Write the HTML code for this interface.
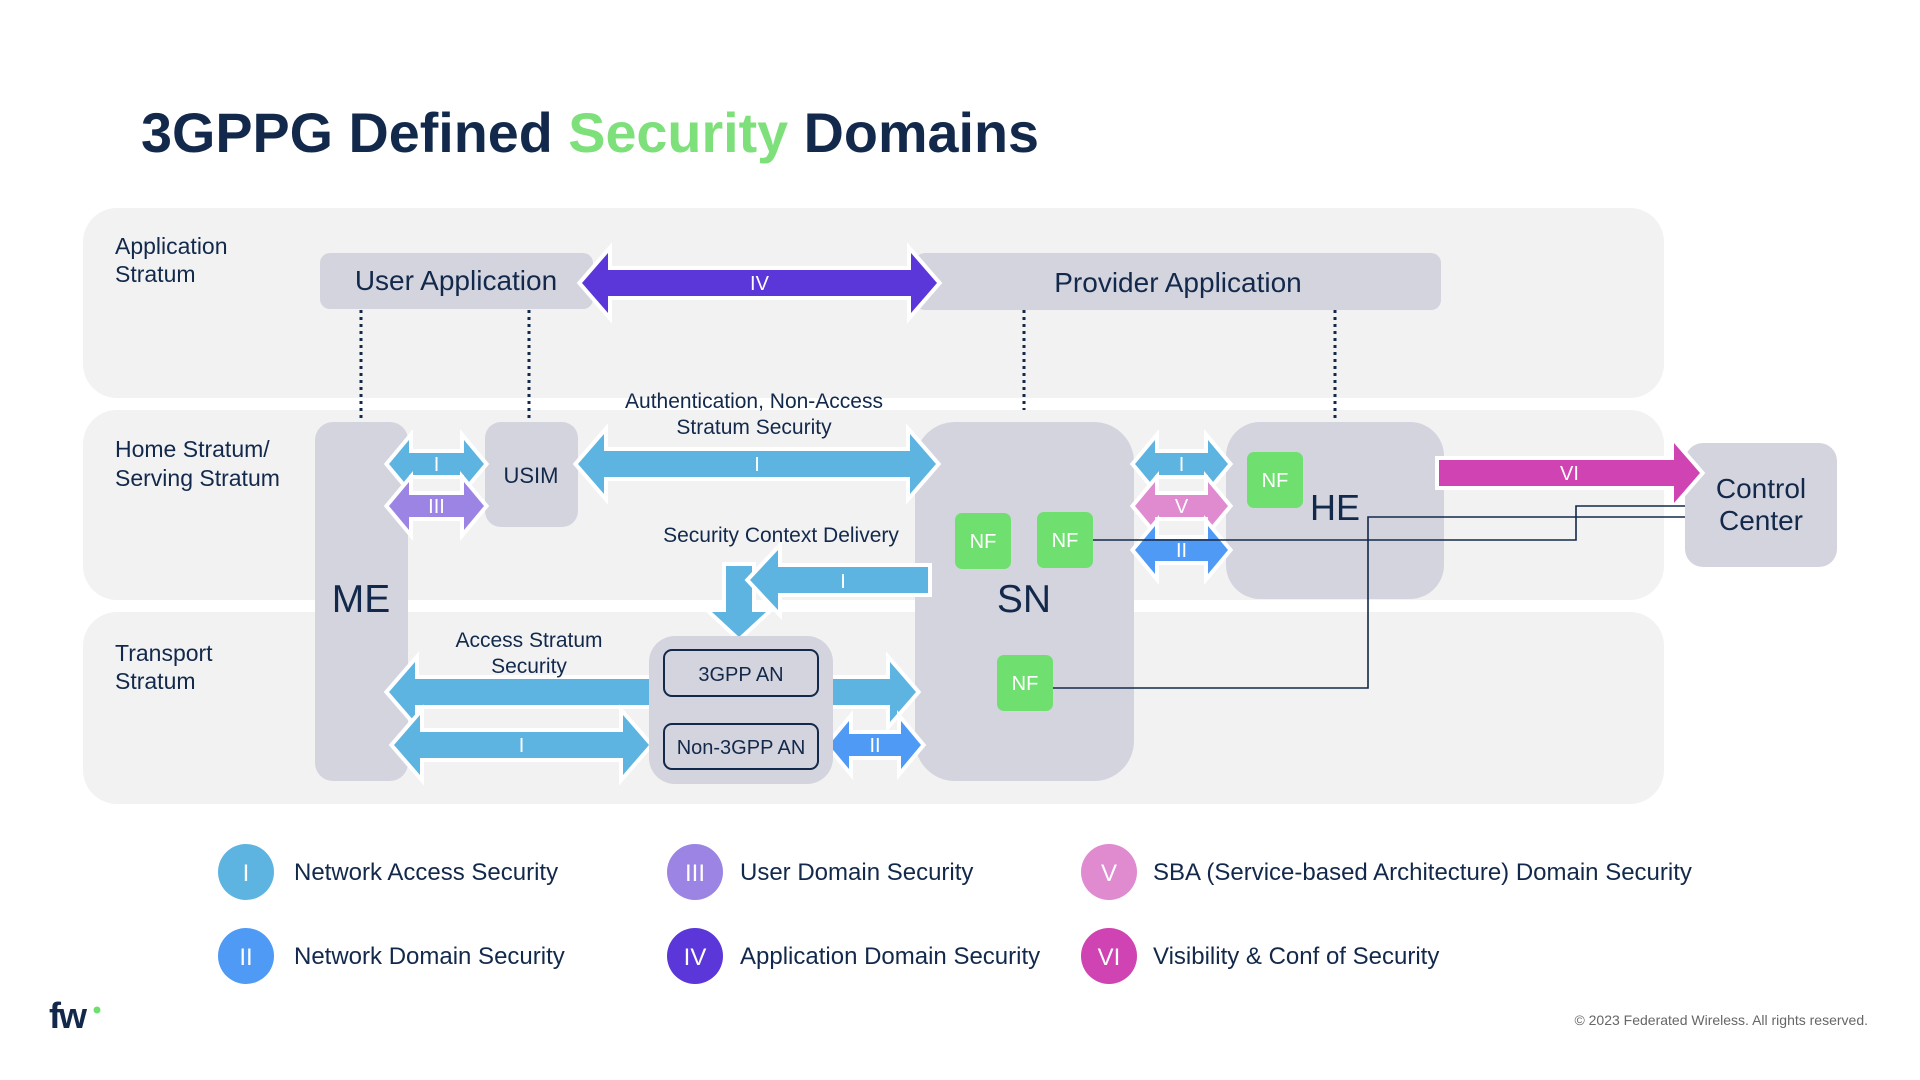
<!DOCTYPE html>
<html><head><meta charset="utf-8"><style>
html,body{margin:0;padding:0;background:#fff;}
svg{display:block;font-family:"Liberation Sans",Arial,sans-serif;}
</style></head><body>
<svg id="s" width="1920" height="1080" viewBox="0 0 1920 1080" xmlns="http://www.w3.org/2000/svg">
<text x="141" y="152" font-size="56" font-weight="bold" fill="#13294b" textLength="898" lengthAdjust="spacingAndGlyphs">3GPPG Defined <tspan fill="#7ee07a">Security</tspan> Domains</text>
<rect x="83" y="208" width="1581" height="190" rx="34" fill="#f2f2f2"/>
<rect x="83" y="410" width="1581" height="190" rx="34" fill="#f2f2f2"/>
<rect x="83" y="612" width="1581" height="192" rx="34" fill="#f2f2f2"/>
<g font-size="23" fill="#13294b">
<text x="115" y="254">Application</text><text x="115" y="282">Stratum</text>
<text x="115" y="457">Home Stratum/</text><text x="115" y="486">Serving Stratum</text>
<text x="115" y="661">Transport</text><text x="115" y="689">Stratum</text>
</g>
<g stroke="#13294b" stroke-width="3" stroke-dasharray="3,4">
<line x1="361" y1="310" x2="361" y2="420"/><line x1="529" y1="310" x2="529" y2="420"/>
<line x1="1024" y1="310" x2="1024" y2="410"/><line x1="1335" y1="310" x2="1335" y2="420"/>
</g>
<g fill="#d4d4de">
<rect x="320" y="253" width="273" height="56" rx="10"/>
<rect x="915" y="253" width="526" height="57" rx="10"/>
<rect x="315" y="422" width="93" height="359" rx="18"/>
<rect x="485" y="422" width="93" height="105" rx="16"/>
<rect x="915" y="422" width="219" height="359" rx="40"/>
<rect x="1226" y="422" width="218" height="177" rx="34"/>
<rect x="1685" y="443" width="152" height="124" rx="18"/>
</g>
<g id="arr"></g>
<g fill="none" stroke="#13294b" stroke-width="1.6">
<polyline points="1093,540 1576,540 1576,506 1685,506"/>
<polyline points="1053,688 1368,688 1368,517 1685,517"/>
</g>
<rect x="649" y="636" width="184" height="148" rx="26" fill="#d4d4de"/>
<rect x="664" y="650" width="154" height="46" rx="8" fill="#d4d4de" stroke="#13294b" stroke-width="2"/>
<rect x="664" y="724" width="154" height="45" rx="8" fill="#d4d4de" stroke="#13294b" stroke-width="2"/>
<g fill="#6fe06f">
<rect x="955" y="513" width="56" height="56" rx="7"/>
<rect x="1037" y="512" width="56" height="56" rx="7"/>
<rect x="997" y="655" width="56" height="56" rx="7"/>
<rect x="1247" y="452" width="56" height="56" rx="7"/>
</g>
<g fill="#fff" font-size="20" text-anchor="middle">
<text x="983" y="548">NF</text><text x="1065" y="547">NF</text><text x="1025" y="690">NF</text><text x="1275" y="487">NF</text>
</g>
<g fill="#13294b" text-anchor="middle">
<text x="456" y="290" font-size="28">User Application</text>
<text x="1178" y="292" font-size="28">Provider Application</text>
<text x="361" y="612" font-size="39">ME</text>
<text x="531" y="483" font-size="22">USIM</text>
<text x="1024" y="612" font-size="39">SN</text>
<text x="1335" y="520" font-size="36">HE</text>
<text x="1761" y="498" font-size="28">Control</text>
<text x="1761" y="530" font-size="28">Center</text>
<text x="741" y="681" font-size="20">3GPP AN</text>
<text x="741" y="754" font-size="20">Non-3GPP AN</text>
<text x="754" y="408" font-size="21">Authentication, Non-Access</text>
<text x="754" y="434" font-size="21">Stratum Security</text>
<text x="781" y="542" font-size="21">Security Context Delivery</text>
<text x="529" y="647" font-size="21">Access Stratum</text>
<text x="529" y="673" font-size="21">Security</text>
</g>
<g font-size="24" fill="#13294b">
<circle cx="246" cy="872" r="28" fill="#5eb4e0"/><circle cx="246" cy="956" r="28" fill="#4f9af5"/>
<circle cx="695" cy="872" r="28" fill="#9b84e3"/><circle cx="695" cy="956" r="28" fill="#5b36d9"/>
<circle cx="1109" cy="872" r="28" fill="#e08ad0"/><circle cx="1109" cy="956" r="28" fill="#d043b2"/>
<g fill="#fff" text-anchor="middle" font-size="24">
<text x="246" y="881">I</text><text x="246" y="965">II</text><text x="695" y="881">III</text><text x="695" y="965">IV</text><text x="1109" y="881">V</text><text x="1109" y="965">VI</text>
</g>
<text x="294" y="880">Network Access Security</text><text x="294" y="964">Network Domain Security</text>
<text x="740" y="880">User Domain Security</text><text x="740" y="964">Application Domain Security</text>
<text x="1153" y="880">SBA (Service-based Architecture) Domain Security</text><text x="1153" y="964">Visibility &amp; Conf of Security</text>
</g>
<text x="49" y="1028" font-size="36" font-weight="bold" fill="#13294b" letter-spacing="-2">fw</text>
<circle cx="97" cy="1010" r="3.5" fill="#6fe06f"/>
<text x="1868" y="1025" font-size="14" fill="#666" text-anchor="end">© 2023 Federated Wireless. All rights reserved.</text>
</svg>
<script>
var g=document.getElementById('arr'),NS='http://www.w3.org/2000/svg';
function poly(pts,fill,label,lx,ly){
 var p=document.createElementNS(NS,'polygon');p.setAttribute('points',pts.map(function(a){return a.join(',')}).join(' '));
 p.setAttribute('fill',fill);p.setAttribute('stroke','#fff');p.setAttribute('stroke-width','8');p.setAttribute('stroke-linejoin','miter');p.setAttribute('paint-order','stroke');g.appendChild(p);
 if(label){var t=document.createElementNS(NS,'text');t.setAttribute('x',lx);t.setAttribute('y',ly);t.setAttribute('fill','#fff');t.setAttribute('font-size','20');t.setAttribute('text-anchor','middle');t.textContent=label;g.appendChild(t);}
}
function dbl(x1,x2,cy,b,h,L,fill,label){
 poly([[x1,cy],[x1+L,cy-h],[x1+L,cy-b],[x2-L,cy-b],[x2-L,cy-h],[x2,cy],[x2-L,cy+h],[x2-L,cy+b],[x1+L,cy+b],[x1+L,cy+h]],fill,label,(x1+x2)/2,cy+7);
}
function right(x1,x2,cy,b,h,L,fill,label){
 poly([[x1,cy-b],[x2-L,cy-b],[x2-L,cy-h],[x2,cy],[x2-L,cy+h],[x2-L,cy+b],[x1,cy+b]],fill,label,(x1+x2)/2,cy+7);
}
dbl(582,937,283,13,30,26,'#5b36d9','IV');
dbl(389,484,464,11,24,20,'#5eb4e0','I');
dbl(389,484,506,11,24,20,'#9b84e3','III');
dbl(578,936,464,13,30,26,'#5eb4e0','I');
dbl(1135,1228,464,11,24,20,'#5eb4e0','I');
dbl(1135,1228,506,11,24,20,'#e08ad0','V');
dbl(1135,1228,550,11,24,20,'#4f9af5','II');
right(1439,1700,473,13,30,26,'#d043b2','VI');
poly([[726,566],[752,566],[752,612],[766,612],[739,637],[712,612],[726,612]],'#5eb4e0');
poly([[928,567],[928,593],[778,593],[778,610],[750,580],[778,550],[778,567]],'#5eb4e0','I',843,588);
dbl(389,916,692,13,30,26,'#5eb4e0','I');
dbl(394,649,745,13,30,26,'#5eb4e0','I');
dbl(829,921,745,11,24,20,'#4f9af5','II');
</script>
</body></html>
